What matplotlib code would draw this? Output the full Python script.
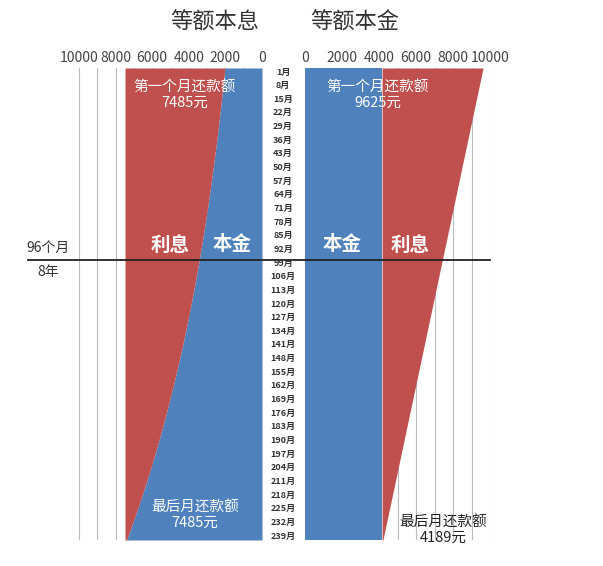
import matplotlib
matplotlib.use("Agg")
import matplotlib.pyplot as plt
import numpy as np

plt.rcParams['font.family'] = ['Noto Sans CJK SC', 'DejaVu Sans']

months = list(range(1, 240, 7))
# equal installment: principal per month (read at each tick month), total payment
annuity_principal = [2027, 2106, 2188, 2273, 2361, 2452, 2548, 2647, 2749, 2856, 2967, 3082,
                     3202, 3326, 3455, 3590, 3729, 3874, 4024, 4181, 4343, 4512, 4687, 4869,
                     5058, 5254, 5458, 5670, 5891, 6119, 6357, 6604, 6861, 7127, 7404]
annuity_total = [7485] * len(months)
# equal principal
ep_principal = [4167] * len(months)
ep_interest = [5458, 5299, 5140, 4980, 4821, 4662, 4503, 4343, 4184, 4025, 3866, 3707,
               3547, 3388, 3229, 3070, 2910, 2751, 2592, 2433, 2274, 2114, 1955, 1796,
               1637, 1477, 1318, 1159, 1000, 841, 681, 522, 363, 204, 45]
xticks = [0, 2000, 4000, 6000, 8000, 10000]

blue = '#4F81BD'
red = '#C0504D'
W, H = 603, 566
fig = plt.figure(figsize=(W/100, H/100), dpi=100)

def ax_rect(x0, x1, y0, y1):
    return [x0/W, 1-y1/H, (x1-x0)/W, (y1-y0)/H]

axL = fig.add_axes(ax_rect(79, 262, 68, 540))
axR = fig.add_axes(ax_rect(305, 490, 68, 540))
m = np.array(months)
ym = (m[0], m[-1])
for ax in (axL, axR):
    ax.set_ylim(m[-1], m[0])
    ax.set_xlim(0, 10000)
    ax.set_xticks(xticks)
    ax.set_xticks(range(0, 10001, 1000), minor=True)
    ax.xaxis.tick_top()
    ax.tick_params(axis='x', which='both', length=0, labelsize=10, colors='#444444', pad=2)
    ax.set_yticks([])
    ax.grid(True, axis='x', which='both', color='#bbbbbb', lw=0.8)
    ax.set_axisbelow(True)
    for s in ax.spines.values():
        s.set_visible(False)
axL.invert_xaxis()

p = np.array(annuity_principal); t = np.array(annuity_total)
axL.fill_betweenx(m, 0, p, color=blue, lw=0)
axL.fill_betweenx(m, p, t, color=red, lw=0)
ep = np.array(ep_principal); ei = np.array(ep_interest)
axR.fill_betweenx(m, 0, ep, color=blue, lw=0)
axR.fill_betweenx(m, ep, ep + ei, color=red, lw=0)

# center month labels
ys = np.linspace(72, 536, len(months))
for mm, yy in zip(months, ys):
    fig.text(283/W, 1-yy/H, f"{mm}月", ha='center', va='center', fontsize=6.5,
             fontweight='bold', color='#333333')

fig.text(215/W, 1-22/H, "等额本息", ha='center', va='center', fontsize=16, color='#333333')
fig.text(355/W, 1-22/H, "等额本金", ha='center', va='center', fontsize=16, color='#333333')

fig.text(185/W, 1-95/H, "第一个月还款额\n7485元", ha='center', va='center', fontsize=10.5,
         color='white', linespacing=1.1)
fig.text(378/W, 1-95/H, "第一个月还款额\n9625元", ha='center', va='center', fontsize=10.5,
         color='white', linespacing=1.1)
for x, s in [(170, "利息"), (232, "本金"), (342, "本金"), (410, "利息")]:
    fig.text(x/W, 1-245/H, s, ha='center', va='center', fontsize=14, fontweight='bold', color='white')
fig.text(195/W, 1-515/H, "最后月还款额\n7485元", ha='center', va='center', fontsize=10.5,
         color='white', linespacing=1.1)
fig.text(443/W, 1-530/H, "最后月还款额\n4189元", ha='center', va='center', fontsize=10.5,
         color='#222222', linespacing=1.1)

fig.add_artist(plt.Line2D([28/W, 490/W], [1-260/H, 1-260/H], color='#222222', lw=1.3))
fig.text(48/W, 1-248/H, "96个月", ha='center', va='center', fontsize=10, color='#333333')
fig.text(48/W, 1-272/H, "8年", ha='center', va='center', fontsize=10, color='#333333')

fig.savefig("out.png", dpi=100)
